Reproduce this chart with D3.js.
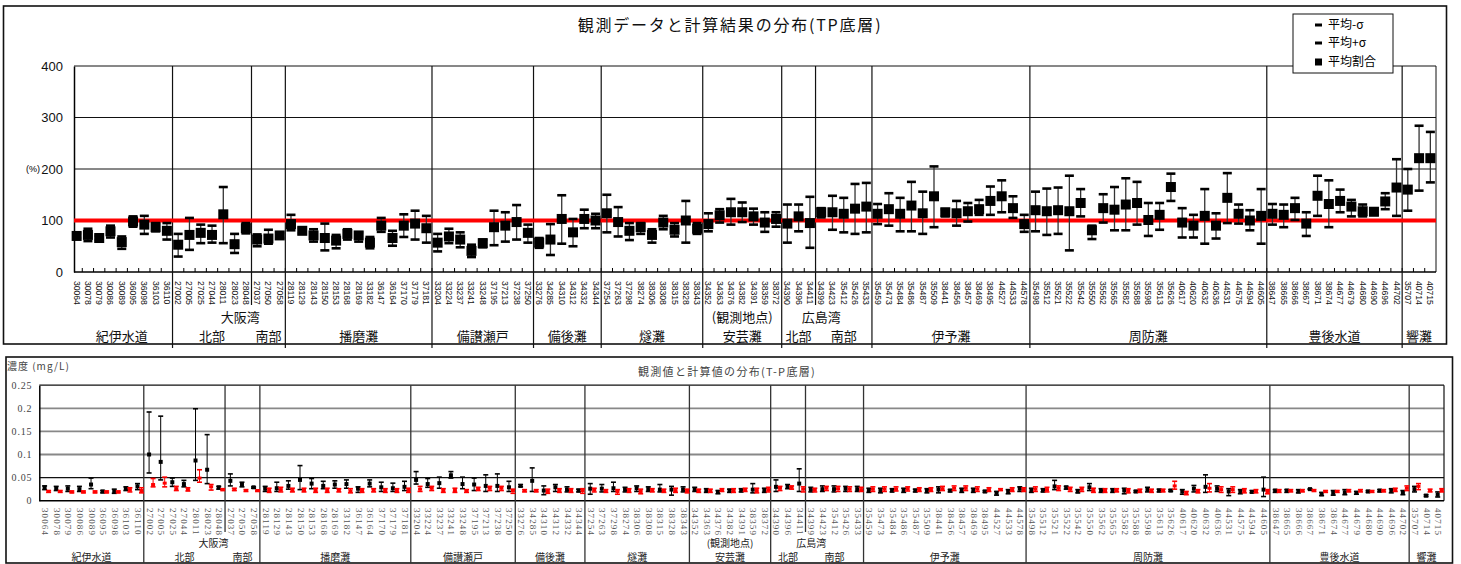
<!DOCTYPE html>
<html><head><meta charset="utf-8">
<script src="https://cdn.jsdelivr.net/npm/d3@7"></script>
<style>
body{margin:0;background:#fff;}
svg{display:block;font-family:"Liberation Sans","Noto Sans CJK JP",sans-serif;}
</style></head>
<body><svg id="c" width="1461" height="564"></svg>
<script>
// ---------------- data ----------------
const stations = ["30064","30078","30079","30086","30089","36095","36098","36103","36110",
"27002","27005","27025","27044","28011","28023","28048",
"27037","27050","27058",
"28119","28129","28143","28150","28153","28168","28169","33182","36147","36164","37170","37179","37181",
"33204","33224","33237","33241","33248","37195","37213","37238","37250",
"33276","34285","34310","34312","34332","34344",
"37254","37263","37298","38274","38306","38308","38315","38328","38343",
"34352","34363","34376","34382","34391","38359","38372",
"34390","34396","34411",
"34399","34423","35412","35426","35433",
"35459","35473","35484","35486","35487","35509","38441","38456","38457","38469","38495","44527","44533","44578",
"35498","35512","35521","35522","35542","35550","35562","35565","35582","35588","35598","35613","35626","40617","40620","40632","40636","44531","44575","44594","44605",
"38647","38665","38666","38667","38671","38674","44677","44679","44680","44690","44696","44702",
"35707","40714","40715"];

const regionNames = ["紀伊水道","大阪湾","播磨灘","備讃瀬戸","備後灘","燧灘","安芸灘","広島湾","伊予灘","周防灘","豊後水道","響灘"];
const regionSizes = [9,10,13,9,6,9,7,8,14,21,12,3];
const regionNotes = ["","","","","","","(観測地点)","","","","",""];
const subNames = [[],["北部","南部"],[],[],[],[],[],["北部","南部"],[],[],[],[]];
const subSizes = [[],[7,3],[],[],[],[],[],[3,5],[],[],[],[]];

// top chart: mean ratio (%), mean-σ, mean+σ
const ratioMean = [70,72,66,79,58,98,92,87,80, 53,72,76,72,112,54,85, 63,65,71,
93,80,71,66,61,74,71,57,90,66,90,94,85, 57,69,63,41,56,87,90,97,76,
57,63,103,77,103,100, 114,97,80,87,72,96,82,100,84, 93,110,116,116,108,96,103,
94,108,95, 116,116,113,123,127, 113,122,113,129,114,147,116,114,118,122,138,147,124,93,
120,118,120,118,134,81,124,121,131,134,101,111,165,96,90,109,90,144,113,100,109,
113,111,124,94,148,132,138,127,118,117,137,164, 160,221,221];
const ratioLo = [66,60,62,67,45,88,74,79,63, 30,43,56,57,56,37,75, 50,55,66,
81,75,59,42,46,63,59,46,78,51,68,63,57, 40,56,48,29,48,52,59,63,57,
47,33,55,50,85,85, 77,69,62,74,57,83,69,57,74, 79,96,92,97,92,78,88,
57,79,47, 106,82,77,74,77, 93,90,79,79,74,87,108,90,98,111,111,116,105,78,
79,72,74,42,108,64,96,81,81,92,70,82,138,67,67,55,65,95,94,81,55,
92,87,101,70,109,87,116,108,108,111,122,109, 119,158,174];
const ratioHi = [75,84,70,90,69,108,109,95,95, 74,105,92,90,165,74,95, 73,82,76,
111,85,83,94,72,83,77,68,105,80,112,119,109, 74,84,77,53,63,119,116,130,92,
66,93,149,103,121,113, 150,126,95,95,83,109,95,138,95, 114,122,142,135,123,116,116,
131,131,146, 124,148,144,171,173, 132,153,144,175,156,205,122,138,134,140,166,178,147,111,
156,162,164,187,161,90,151,165,182,175,134,134,191,124,111,161,114,192,131,120,161,
132,131,144,116,187,178,160,140,131,123,153,219, 200,284,272];

// bottom chart: observed (black) and computed (red) concentration, mg/L
const obsMean = [0.029,0.026,0.026,0.025,0.035,0.020,0.020,0.026,0.031,
0.100,0.084,0.040,0.036,0.087,0.067,0.029, 0.043,0.035,0.029,
0.026,0.027,0.032,0.045,0.037,0.032,0.035,0.036,0.026,0.037,0.029,0.027,0.030,
0.045,0.036,0.038,0.055,0.036,0.035,0.032,0.032,0.029,
0.032,0.043,0.022,0.029,0.024,0.022,
0.026,0.026,0.027,0.024,0.027,0.025,0.024,0.024,0.024,
0.025,0.022,0.019,0.022,0.022,0.024,0.022,
0.030,0.031,0.037, 0.024,0.025,0.025,0.026,0.025,
0.022,0.022,0.022,0.022,0.022,0.022,0.024,0.022,0.022,0.022,0.020,0.017,0.020,0.026,
0.022,0.022,0.031,0.029,0.020,0.029,0.022,0.022,0.022,0.020,0.024,0.022,0.022,0.020,0.026,0.030,0.026,0.020,0.020,0.019,0.024,
0.022,0.022,0.020,0.025,0.014,0.017,0.018,0.017,0.020,0.022,0.022,0.018,
0.025,0.011,0.013];
const obsLo = [0.024,0.022,0.020,0.020,0.026,0.017,0.016,0.022,0.024,
0.060,0.045,0.031,0.030,0.044,0.037,0.025, 0.032,0.030,0.027,
0.020,0.020,0.025,0.024,0.026,0.026,0.027,0.027,0.018,0.030,0.020,0.020,0.022,
0.036,0.029,0.027,0.049,0.026,0.022,0.020,0.020,0.020,
0.030,0.020,0.013,0.020,0.019,0.019,
0.014,0.019,0.020,0.019,0.020,0.020,0.019,0.012,0.019,
0.020,0.018,0.015,0.018,0.019,0.017,0.018,
0.020,0.026,0.020, 0.019,0.020,0.019,0.020,0.020,
0.018,0.017,0.019,0.018,0.019,0.017,0.017,0.019,0.018,0.018,0.018,0.012,0.015,0.020,
0.018,0.019,0.024,0.025,0.017,0.022,0.018,0.018,0.015,0.018,0.019,0.019,0.020,0.014,0.019,0.018,0.020,0.011,0.015,0.017,0.009,
0.018,0.018,0.017,0.024,0.011,0.012,0.013,0.014,0.018,0.019,0.017,0.013,
0.019,0.009,0.008];
const obsHi = [0.032,0.031,0.032,0.031,0.049,0.022,0.025,0.030,0.037,
0.192,0.183,0.049,0.044,0.199,0.143,0.031, 0.058,0.040,0.030,
0.031,0.040,0.043,0.076,0.048,0.042,0.043,0.045,0.030,0.045,0.040,0.038,0.042,
0.063,0.048,0.051,0.063,0.051,0.049,0.056,0.058,0.042,
0.035,0.071,0.032,0.035,0.030,0.025,
0.037,0.035,0.040,0.029,0.032,0.030,0.035,0.031,0.030,
0.029,0.026,0.022,0.025,0.026,0.037,0.027,
0.045,0.035,0.069, 0.029,0.032,0.032,0.031,0.031,
0.027,0.027,0.026,0.027,0.025,0.026,0.030,0.024,0.027,0.027,0.022,0.020,0.024,0.030,
0.027,0.026,0.044,0.031,0.024,0.037,0.026,0.026,0.027,0.022,0.029,0.025,0.024,0.024,0.033,0.056,0.032,0.026,0.024,0.022,0.051,
0.024,0.024,0.024,0.026,0.018,0.022,0.024,0.020,0.022,0.024,0.026,0.022,
0.031,0.013,0.019];
const calcMean = [0.020,0.020,0.019,0.019,0.019,0.019,0.019,0.024,0.022,
0.035,0.038,0.026,0.024,0.049,0.030,0.024, 0.024,0.022,0.022,
0.022,0.024,0.022,0.022,0.022,0.022,0.022,0.021,0.022,0.022,0.022,0.022,0.022,
0.025,0.027,0.022,0.022,0.020,0.026,0.027,0.027,0.022,
0.022,0.022,0.020,0.022,0.022,0.022,
0.024,0.020,0.020,0.022,0.020,0.022,0.022,0.022,0.022,
0.022,0.022,0.024,0.022,0.024,0.022,0.024,
0.027,0.029,0.025, 0.024,0.027,0.026,0.025,0.024,
0.025,0.025,0.025,0.026,0.024,0.024,0.026,0.027,0.027,0.025,0.024,0.024,0.024,0.024,
0.025,0.024,0.027,0.025,0.025,0.022,0.022,0.022,0.022,0.022,0.022,0.022,0.032,0.017,0.020,0.027,0.024,0.024,0.022,0.020,0.020,
0.022,0.022,0.022,0.022,0.020,0.020,0.022,0.022,0.020,0.022,0.024,0.027,
0.031,0.022,0.022];
const calcLo = [0.018,0.018,0.017,0.017,0.017,0.017,0.017,0.019,0.017,
0.030,0.030,0.022,0.021,0.040,0.023,0.022, 0.022,0.020,0.020,
0.018,0.019,0.019,0.019,0.018,0.018,0.019,0.017,0.018,0.019,0.018,0.018,0.018,
0.020,0.022,0.018,0.018,0.018,0.022,0.022,0.022,0.016,
0.019,0.019,0.016,0.018,0.018,0.016,
0.019,0.018,0.014,0.018,0.015,0.019,0.018,0.018,0.017,
0.018,0.018,0.020,0.018,0.020,0.017,0.019,
0.022,0.025,0.019, 0.019,0.022,0.020,0.020,0.020,
0.020,0.020,0.021,0.021,0.020,0.020,0.022,0.022,0.022,0.020,0.020,0.022,0.020,0.020,
0.020,0.019,0.022,0.020,0.020,0.018,0.018,0.019,0.017,0.018,0.018,0.019,0.025,0.013,0.017,0.019,0.018,0.018,0.017,0.017,0.015,
0.018,0.019,0.019,0.020,0.018,0.018,0.019,0.019,0.018,0.019,0.020,0.022,
0.024,0.019,0.019];
const calcHi = [0.022,0.022,0.021,0.021,0.021,0.021,0.021,0.028,0.028,
0.048,0.051,0.031,0.028,0.067,0.035,0.026, 0.027,0.024,0.023,
0.027,0.029,0.027,0.027,0.027,0.027,0.026,0.026,0.026,0.026,0.026,0.026,0.027,
0.031,0.031,0.026,0.027,0.024,0.029,0.031,0.031,0.025,
0.024,0.024,0.025,0.026,0.026,0.026,
0.027,0.024,0.024,0.026,0.025,0.026,0.025,0.027,0.025,
0.025,0.025,0.026,0.026,0.027,0.027,0.029,
0.031,0.032,0.030, 0.027,0.031,0.031,0.030,0.029,
0.030,0.030,0.030,0.030,0.028,0.028,0.031,0.032,0.032,0.030,0.028,0.026,0.028,0.028,
0.030,0.029,0.032,0.029,0.029,0.027,0.026,0.026,0.026,0.025,0.025,0.025,0.042,0.020,0.024,0.037,0.030,0.030,0.026,0.024,0.024,
0.024,0.024,0.024,0.024,0.022,0.022,0.024,0.024,0.022,0.024,0.027,0.032,
0.037,0.025,0.026];

const ratioTicks = [0,100,200,300,400];
const concTicks = [0,0.05,0.1,0.15,0.2,0.25];

// ---------------- drawing ----------------
const svg = d3.select("#c");
const N = stations.length;
const CJK = '"Noto Sans CJK JP","Liberation Sans",sans-serif';

// region bookkeeping
let acc = 0;
const regions = regionNames.map((name, k) => {
  const start = acc; acc += regionSizes[k];
  let s = start;
  const subs = subNames[k].map((sn, j) => { const o = {name: sn, start: s, end: s + subSizes[k][j]}; s += subSizes[k][j]; return o; });
  return {name, start, end: acc, note: regionNotes[k], subs};
});

function drawPanel(cfg) {
  const g = svg.append("g");
  const x = d3.scaleBand().domain(d3.range(N)).range(cfg.xr).padding(0);
  const y = d3.scaleLinear().domain(cfg.dom).range(cfg.yr);
  const edge = i => i >= N ? cfg.xr[1] : x(i);
  return {g, x, y, edge};
}

// ===== TOP PANEL =====
svg.append("rect").attr("x",3.5).attr("y",6).attr("width",1443).attr("height",338)
  .attr("fill","none").attr("stroke","#111").attr("stroke-width",1.6);

const T = drawPanel({xr:[71,1436], yr:[272,66], dom:[0,400]});
const tg = T.g;
const axX = 74;

// gridlines
tg.selectAll(".tgrid").data(ratioTicks.filter(v=>v>0)).join("line")
  .attr("x1",axX).attr("x2",1436).attr("y1",d=>T.y(d)).attr("y2",d=>T.y(d))
  .attr("stroke","#111").attr("stroke-width",1);
// right border
tg.append("line").attr("x1",1436).attr("x2",1436).attr("y1",T.y(400)).attr("y2",T.y(0)).attr("stroke","#111");
// y axis
const yAxT = d3.axisLeft(T.y).tickValues(ratioTicks).tickSize(0).tickPadding(11).tickFormat(d3.format("d"));
tg.append("g").attr("transform",`translate(${axX},0)`).call(yAxT)
  .call(a=>a.select(".domain").attr("stroke","#000").attr("stroke-width",1.5))
  .call(a=>a.selectAll("text").attr("font-size",13).attr("fill","#111").attr("font-family","Liberation Sans, sans-serif"));
tg.append("text").attr("x",26).attr("y",T.y(200)).attr("dy","0.35em").attr("font-size",9).text("(%)");
// x axis line + ticks at band edges
tg.append("line").attr("x1",axX).attr("x2",1436).attr("y1",T.y(0)).attr("y2",T.y(0)).attr("stroke","#000").attr("stroke-width",1.5);
tg.selectAll(".ttick").data(d3.range(1,N)).join("line")
  .attr("x1",d=>T.edge(d)).attr("x2",d=>T.edge(d)).attr("y1",T.y(0)).attr("y2",T.y(0)-4)
  .attr("stroke","#000").attr("stroke-width",1);
// station labels
tg.selectAll(".tlab").data(stations).join("text")
  .attr("transform",(d,i)=>`translate(${T.x(i)+T.x.bandwidth()/2},281) rotate(90)`)
  .attr("dominant-baseline","central").attr("font-size",8.6).attr("fill","#111").text(d=>d);

// dividers
regions.forEach((r,k)=>{
  if (k>0) tg.append("line").attr("x1",T.edge(r.start)).attr("x2",T.edge(r.start)).attr("y1",66).attr("y2",348).attr("stroke","#111").attr("stroke-width",1.2);
  r.subs.forEach((s,j)=>{ if(j>0) tg.append("line").attr("x1",T.edge(s.start)).attr("x2",T.edge(s.start)).attr("y1",66).attr("y2",305).attr("stroke","#111").attr("stroke-width",1.2); });
});
// region labels
function regionLabels(P, g, y1, y2, fs, col) {
  regions.forEach(r=>{
    const cx = (P.edge(r.start)+P.edge(r.end))/2;
    if (r.subs.length) {
      const cs = r.subs.map(s=>(P.edge(s.start)+P.edge(s.end))/2);
      r.subs.forEach((s,j)=> g.append("text").attr("x",cs[j]).attr("y",y2).attr("text-anchor","middle").attr("dy","0.35em")
        .attr("font-size",fs).attr("fill",col).attr("font-family",CJK).text(s.name));
      g.append("text").attr("x",d3.mean(cs)).attr("y",y1).attr("text-anchor","middle").attr("dy","0.35em")
        .attr("font-size",fs).attr("fill",col).attr("font-family",CJK).text(r.name);
    } else {
      if (r.note) g.append("text").attr("x",cx).attr("y",y1).attr("text-anchor","middle").attr("dy","0.35em")
        .attr("font-size",fs).attr("fill",col).attr("font-family",CJK).text(r.note);
      g.append("text").attr("x",cx).attr("y",y2).attr("text-anchor","middle").attr("dy","0.35em")
        .attr("font-size",fs).attr("fill",col).attr("font-family",CJK).text(r.name);
    }
  });
}
regionLabels(T, tg, 317, 336, 13, "#111");

// reference line 100%
tg.append("line").attr("x1",axX).attr("x2",1436).attr("y1",T.y(100)).attr("y2",T.y(100)).attr("stroke","#ff0000").attr("stroke-width",4);

// whiskers + markers
const cxT = i => T.x(i)+T.x.bandwidth()/2;
tg.selectAll(".tv").data(d3.range(N)).join("line")
  .attr("x1",cxT).attr("x2",cxT).attr("y1",i=>T.y(ratioLo[i])).attr("y2",i=>T.y(ratioHi[i]))
  .attr("stroke","#333").attr("stroke-width",1.3);
[ratioLo, ratioHi].forEach(arr=>{
  tg.selectAll(null).data(d3.range(N)).join("line")
    .attr("x1",i=>cxT(i)-4.5).attr("x2",i=>cxT(i)+4.5).attr("y1",i=>T.y(arr[i])).attr("y2",i=>T.y(arr[i]))
    .attr("stroke","#000").attr("stroke-width",2.6);
});
tg.selectAll(".tm").data(d3.range(N)).join("rect")
  .attr("x",i=>cxT(i)-5).attr("y",i=>T.y(ratioMean[i])-5).attr("width",10).attr("height",10).attr("fill","#000");

// title
svg.append("text").attr("x",730).attr("y",25).attr("text-anchor","middle").attr("dy","0.35em")
  .attr("font-size",16).attr("letter-spacing",1.8).attr("font-family",CJK).attr("fill","#111")
  .text("観測データと計算結果の分布(TP底層)");

// legend
const lg = svg.append("g");
lg.append("rect").attr("x",1293).attr("y",14).attr("width",100).attr("height",59).attr("fill","#fff").attr("stroke","#111");
const legendItems = ["平均-σ","平均+σ","平均割合"];
const legY = [25,43,62];
legendItems.forEach((t,k)=>{
  if (k<2) lg.append("line").attr("x1",1315).attr("x2",1322).attr("y1",legY[k]).attr("y2",legY[k]).attr("stroke","#000").attr("stroke-width",3);
  else lg.append("rect").attr("x",1315).attr("y",legY[k]-3.5).attr("width",7).attr("height",7).attr("fill","#000");
  lg.append("text").attr("x",1328).attr("y",legY[k]).attr("dy","0.35em").attr("font-size",12).attr("font-family",CJK).text(t);
});

// ===== BOTTOM PANEL =====
svg.append("rect").attr("x",6).attr("y",357).attr("width",1446.5).attr("height",206)
  .attr("fill","none").attr("stroke","#111").attr("stroke-width",1.6);
const B = drawPanel({xr:[39.3,1444], yr:[500.7,385.2], dom:[0,0.25]});
const bg = B.g;
bg.selectAll(".bgrid").data(concTicks.filter(v=>v>0)).join("line")
  .attr("x1",39.3).attr("x2",1444).attr("y1",d=>B.y(d)).attr("y2",d=>B.y(d))
  .attr("stroke",d=>(d===0.05||d===0.25)?"#111":"#888").attr("stroke-width",d=>(d===0.05||d===0.25)?1.2:1.8);
bg.append("line").attr("x1",1444).attr("x2",1444).attr("y1",B.y(0.25)).attr("y2",B.y(0)).attr("stroke","#111").attr("stroke-width",1.2);
const yAxB = d3.axisLeft(B.y).tickValues(concTicks).tickSize(0).tickPadding(7).tickFormat(d=>String(d));
bg.append("g").attr("transform","translate(39.3,0)").call(yAxB)
  .call(a=>a.select(".domain").attr("stroke","#000").attr("stroke-width",1.5))
  .call(a=>a.selectAll("text").attr("font-size",10).attr("fill","#444").attr("letter-spacing",0.8).attr("font-family","Liberation Serif, serif"));
bg.append("line").attr("x1",39.3).attr("x2",1444).attr("y1",B.y(0)).attr("y2",B.y(0)).attr("stroke","#000").attr("stroke-width",1.5);
bg.append("text").attr("x",7).attr("y",366).attr("dy","0.35em").attr("font-size",10).attr("fill","#444")
  .attr("letter-spacing",1).attr("font-family",CJK).text("濃度 (mg/L)");
bg.append("text").attr("x",727).attr("y",372).attr("text-anchor","middle").attr("dy","0.35em").attr("font-size",11)
  .attr("fill","#444").attr("letter-spacing",1.3).attr("font-family",CJK).text("観測値と計算値の分布(T-P底層)");
// station labels
bg.selectAll(".blab").data(stations).join("text")
  .attr("transform",(d,i)=>`translate(${B.x(i)+B.x.bandwidth()/2},508) rotate(90)`)
  .attr("dominant-baseline","central").attr("font-size",9).attr("letter-spacing",1.1).attr("fill","#555")
  .attr("font-family","Liberation Serif, serif").text(d=>d);
// dividers
regions.forEach((r,k)=>{
  if (k>0) bg.append("line").attr("x1",B.edge(r.start)).attr("x2",B.edge(r.start)).attr("y1",385.2).attr("y2",563).attr("stroke","#333").attr("stroke-width",1.3);
  r.subs.forEach((s,j)=>{ if(j>0) bg.append("line").attr("x1",B.edge(s.start)).attr("x2",B.edge(s.start)).attr("y1",385.2).attr("y2",532).attr("stroke","#333").attr("stroke-width",1.3); });
});
regionLabels(B, bg, 543.5, 557, 10, "#222");

// observed (black) and computed (red)
const cxB = i => B.x(i)+B.x.bandwidth()/2 - 0.5;
const cxR = i => B.x(i)+B.x.bandwidth()/2 + 3.5;
function drawSeries(cx, mean, lo, hi, col, mw, mh) {
  bg.selectAll(null).data(d3.range(N)).join("line")
    .attr("x1",cx).attr("x2",cx).attr("y1",i=>B.y(lo[i])).attr("y2",i=>B.y(hi[i])).attr("stroke",col).attr("stroke-width",1);
  [lo,hi].forEach(arr=>{
    bg.selectAll(null).data(d3.range(N)).join("line")
      .attr("x1",i=>cx(i)-2.5).attr("x2",i=>cx(i)+2.5).attr("y1",i=>B.y(arr[i])).attr("y2",i=>B.y(arr[i]))
      .attr("stroke",col).attr("stroke-width",1.6);
  });
  bg.selectAll(null).data(d3.range(N)).join("rect")
    .attr("x",i=>cx(i)-mw/2).attr("y",i=>B.y(mean[i])-mh/2).attr("width",mw).attr("height",mh).attr("fill",col);
}
drawSeries(cxB, obsMean, obsLo, obsHi, "#000", 4, 4);
drawSeries(cxR, calcMean, calcLo, calcHi, "#ff0000", 4, 3);
</script></body></html>
